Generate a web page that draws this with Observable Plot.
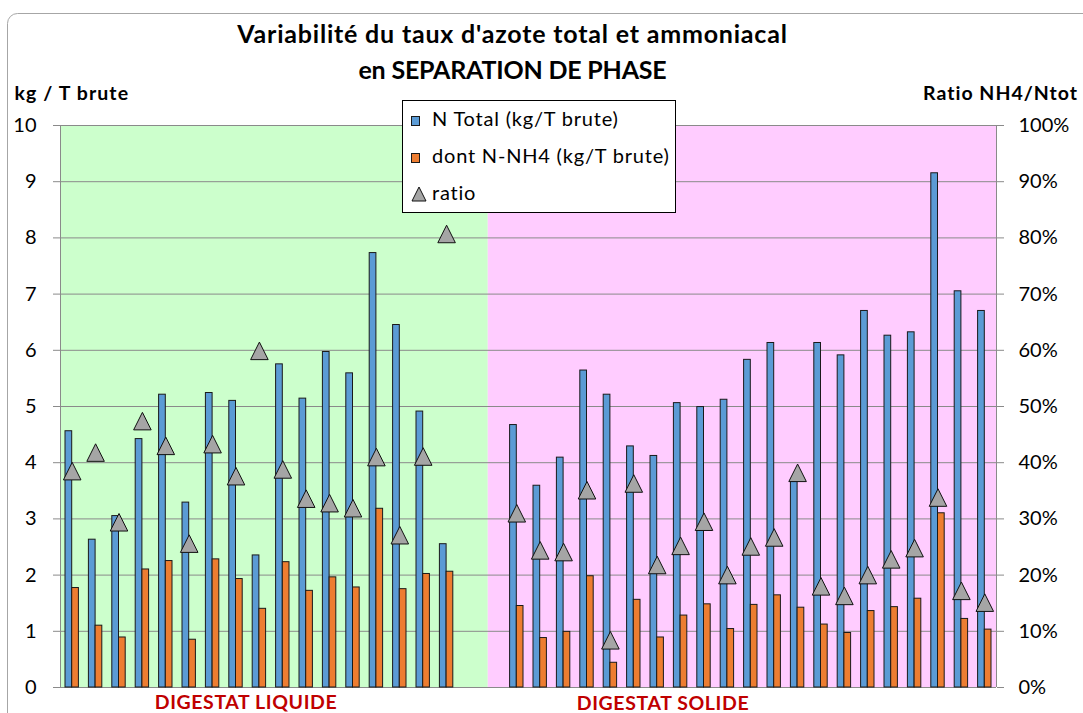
<!DOCTYPE html>
<html><head><meta charset="utf-8">
<script src="https://cdn.jsdelivr.net/npm/d3@7"></script>
<script src="https://cdn.jsdelivr.net/npm/@observablehq/plot@0.6"></script>
<style>
html,body{margin:0;padding:0;background:#fff;overflow:hidden;}
#chart{position:relative;width:1083px;height:713px;}
</style></head><body><div id="chart"></div>
<script>
// ---- data ----
const liquideN   = [4.56, 2.63, 3.05, 4.42, 5.21, 3.29, 5.24, 5.10, 2.35, 5.75, 5.14, 5.97, 5.59, 7.73, 6.45, 4.91, 2.55];
const liquideNH4 = [1.77, 1.10, 0.89, 2.10, 2.25, 0.85, 2.28, 1.93, 1.40, 2.23, 1.72, 1.96, 1.78, 3.18, 1.75, 2.02, 2.06];
const liquideRatio = [38.5, 41.8, 29.4, 47.4, 43.0, 25.6, 43.3, 37.6, 59.9, 38.8, 33.6, 32.8, 31.9, 41.0, 27.1, 41.1, 80.7];

const solideN   = [4.67, 3.59, 4.09, 5.64, 5.21, 4.29, 4.12, 5.06, 4.99, 5.12, 5.83, 6.13, 3.67, 6.13, 5.91, 6.70, 6.26, 6.32, 9.15, 7.05, 6.70];
const solideNH4 = [1.45, 0.88, 0.99, 1.98, 0.44, 1.56, 0.89, 1.28, 1.48, 1.04, 1.47, 1.64, 1.42, 1.12, 0.97, 1.36, 1.43, 1.58, 3.10, 1.22, 1.03];
const solideRatio = [31.0, 24.4, 24.1, 35.1, 8.4, 36.3, 21.8, 25.2, 29.5, 20.0, 25.1, 26.7, 38.2, 18.0, 16.3, 20.0, 22.8, 24.8, 33.8, 17.2, 15.1];

const gapSlots = 2;               // empty categories between the two groups
const zoneSplit = 18.28;          // where the pink background starts (in category units)
const yTicks = [0,1,2,3,4,5,6,7,8,9,10];
const seriesNames = ["N Total (kg/T brute)", "dont N-NH4 (kg/T brute)", "ratio"];
const groupLabels = ["DIGESTAT LIQUIDE", "DIGESTAT SOLIDE"];
const titleLines = ["Variabilité du taux d'azote total et ammoniacal", "en SEPARATION DE PHASE"];
const leftTitle = "kg / T brute";
const rightTitle = "Ratio NH4/Ntot";

const BLUE = "#5B9BD5", ORANGE = "#ED7D31", GREY = "#A5A5A5";
const FONT = "Lato, 'Open Sans', sans-serif";

// ---- build table ----
const rows = [];
liquideN.forEach((n, k) => rows.push({slot: k, n, nh4: liquideNH4[k], ratio: liquideRatio[k]}));
solideN.forEach((n, k) => rows.push({slot: liquideN.length + gapSlots + k, n, nh4: solideNH4[k], ratio: solideRatio[k]}));
const nSlots = liquideN.length + gapSlots + solideN.length;
const zones = [
  {start: 0, end: zoneSplit, color: "#CCFFCC"},
  {start: zoneSplit, end: nSlots, color: "#FFCCFF"}
];

const tri = {draw(ctx, size) { const s = Math.sqrt(size); ctx.moveTo(0, -s/2); ctx.lineTo(s/2, s/2); ctx.lineTo(-s/2, s/2); ctx.closePath(); }};
const GRID = "#8a8a8a";

const plot = Plot.plot({
  width: 1083, height: 713,
  marginLeft: 60, marginRight: 87, marginTop: 125, marginBottom: 26,
  style: {fontFamily: FONT, background: "transparent"},
  x: {domain: [0, nSlots], axis: null},
  y: {domain: [0, 10], axis: null},
  marks: [
    Plot.rect(zones, {x1: "start", x2: "end", y1: 0, y2: 10, fill: "color"}),
    Plot.ruleY(yTicks, {stroke: GRID, strokeWidth: 1}),
    Plot.ruleX([0, nSlots], {stroke: GRID, y1: 0, y2: 10}),
    Plot.axisY(yTicks, {anchor: "left", tickSize: 7, tickPadding: 17, fontSize: 20, stroke: GRID, fill: "#000", label: null, tickFormat: d => String(d)}),
    Plot.axisY(yTicks, {anchor: "right", tickSize: 7, tickPadding: 15, fontSize: 20, stroke: GRID, fill: "#000", label: null, tickFormat: d => (d * 10) + "%"}),
    Plot.rect(rows, {x1: "slot", x2: d => d.slot + 1, y1: 0, y2: "n", fill: BLUE, stroke: "#1a1a1a", strokeWidth: 1, insetLeft: 5, insetRight: 11.7}),
    Plot.rect(rows, {x1: "slot", x2: d => d.slot + 1, y1: 0, y2: "nh4", fill: ORANGE, stroke: "#1a1a1a", strokeWidth: 1, insetLeft: 11.7, insetRight: 5}),
    Plot.dot(rows, {x: d => d.slot + 0.5, y: d => d.ratio / 10, symbol: tri, r: 9.9, fill: GREY, stroke: "#111", strokeWidth: 1})
  ]
});

document.getElementById("chart").appendChild(plot);
const svg = d3.select(plot);

// chart border
svg.insert("rect", ":first-child").attr("x", 7.5).attr("y", 13.5).attr("width", 1120).attr("height", 760)
  .attr("rx", 10).attr("fill", "none").attr("stroke", "#a6a6a6");

const ann = svg.append("g").attr("font-family", FONT).attr("text-anchor", "start").attr("fill", "#000");
ann.append("text").attr("x", 512.5).attr("y", 43).attr("text-anchor", "middle").attr("font-size", 25).attr("letter-spacing", 0.8).attr("font-weight", "bold").text(titleLines[0]);
ann.append("text").attr("x", 512.5).attr("y", 79).attr("text-anchor", "middle").attr("font-size", 25).attr("letter-spacing", -0.2).attr("font-weight", "bold").text(titleLines[1]);
ann.append("text").attr("x", 14.5).attr("y", 100).attr("font-size", 19.5).attr("letter-spacing", 1.1).attr("font-weight", "bold").text(leftTitle);
ann.append("text").attr("x", 1078).attr("y", 100).attr("text-anchor", "end").attr("font-size", 19.5).attr("letter-spacing", 1).attr("font-weight", "bold").text(rightTitle);

// group labels
ann.append("text").attr("x", 246).attr("y", 709).attr("text-anchor", "middle").attr("font-size", 19.5).attr("letter-spacing", 0.6).attr("font-weight", "bold").attr("fill", "#C00000").text(groupLabels[0]);
ann.append("text").attr("x", 663).attr("y", 710).attr("text-anchor", "middle").attr("font-size", 19.5).attr("letter-spacing", 0.6).attr("font-weight", "bold").attr("fill", "#C00000").text(groupLabels[1]);

// legend
const lg = ann.append("g");
lg.append("rect").attr("x", 402.5).attr("y", 100.5).attr("width", 273).attr("height", 112).attr("fill", "#fff").attr("stroke", "#000");
const baselines = [126, 163, 200];
lg.append("rect").attr("x", 411.5).attr("y", 116.5).attr("width", 8).attr("height", 9).attr("fill", BLUE).attr("stroke", "#1a1a1a");
lg.append("rect").attr("x", 411.5).attr("y", 153.5).attr("width", 8).attr("height", 9).attr("fill", ORANGE).attr("stroke", "#1a1a1a");
lg.append("path").attr("d", "M419,187 L426,201 L412,201 Z").attr("fill", GREY).attr("stroke", "#111");
seriesNames.forEach((s, i) => {
  lg.append("text").attr("x", 432).attr("y", baselines[i]).attr("font-size", 20).attr("letter-spacing", 0.8).text(s);
});
</script></body></html>
